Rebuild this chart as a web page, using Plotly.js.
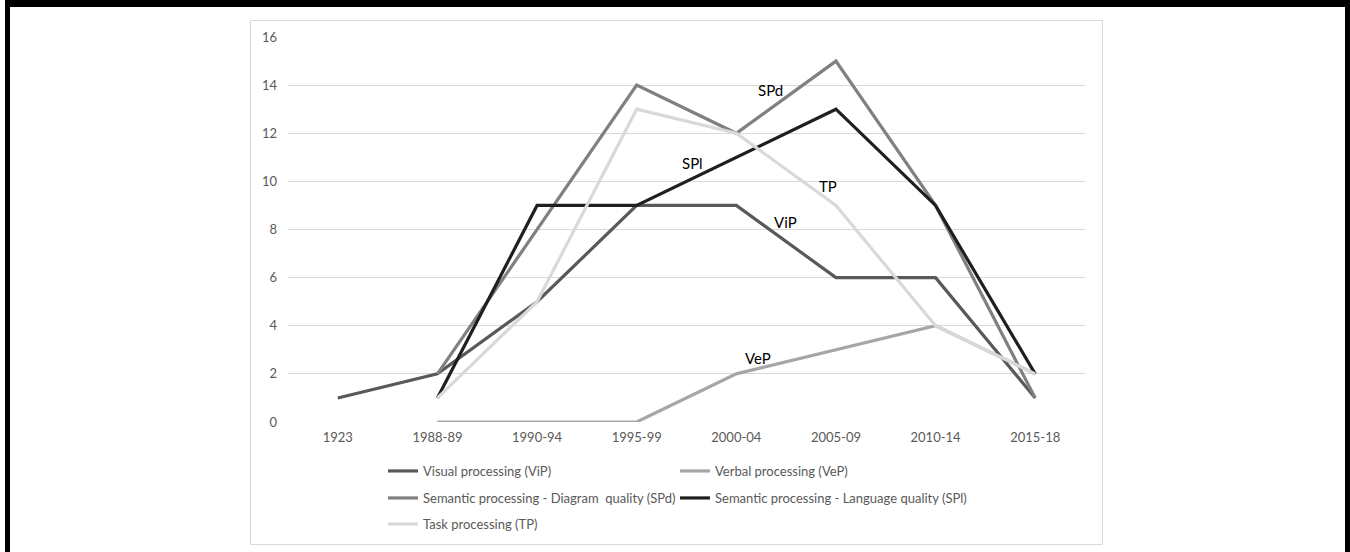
<!DOCTYPE html>
<html>
<head>
<meta charset="utf-8">
<script src="https://cdn.plot.ly/plotly-3.0.1.min.js"></script>
<style>
  html, body { margin: 0; padding: 0; background: #ffffff; }
  #wrap { position: relative; width: 1350px; height: 552px; overflow: hidden; background: #ffffff; }
  #chart { position: absolute; left: 0; top: 0; width: 1350px; height: 552px; }
  .bar { position: absolute; background: #000000; }
</style>
</head>
<body>
<div id="wrap">
  <div id="chart"></div>
  <div class="bar" style="left:5px; top:0; width:1345px; height:7px;"></div>
  <div class="bar" style="left:5px; top:0; width:5px; height:552px;"></div>
  <div class="bar" style="left:1345px; top:0; width:5px; height:552px;"></div>
</div>
<script>
// ---- data ----
var categories = ["1923", "1988-89", "1990-94", "1995-99", "2000-04", "2005-09", "2010-14", "2015-18"];
var vipValues = [1, 2, 5, 9, 9, 6, 6, 1];
var vepValues = [null, 0, 0, 0, 2, 3, 4, 2];
var spdValues = [null, 2, 8, 14, 12, 15, 9, 1];
var splValues = [null, 1, 9, 9, 11, 13, 9, 2];
var tpValues  = [null, 1, 5, 13, 12, 9, 4, 2];
var seriesNames = [
  "Visual processing (ViP)",
  "Verbal processing (VeP)",
  "Semantic processing - Diagram  quality (SPd)",
  "Semantic processing - Language quality (SPl)",
  "Task processing (TP)"
];
var yTickVals = [0, 2, 4, 6, 8, 10, 12, 14, 16];
var lineLabels = ["SPd", "SPl", "TP", "ViP", "VeP"];

// ---- styling ----
var FONT = "Lato, 'Open Sans', sans-serif";
var colors = ["#595959", "#a6a6a6", "#808080", "#1f1f1f", "#d9d9d9"];
var allValues = [vipValues, vepValues, spdValues, splValues, tpValues];
var legendIds = ["legend", "legend2", "legend3", "legend4", "legend5"];

var traces = allValues.map(function (vals, i) {
  return {
    type: "scatter",
    mode: "lines",
    x: categories,
    y: vals,
    name: seriesNames[i].replace(/\s\s+/g, function (m) { return m.replace(/ /g, "\u00a0"); }),
    line: { color: colors[i], width: 3.2 },
    connectgaps: false,
    hoverinfo: "x+y+name",
    legend: legendIds[i]
  };
});

// plot area geometry (pixels)
var L = 288, R = 1085, T = 37, B = 422;
var W = 1350, H = 552;
function px2paperX(px) { return (px - L) / (R - L); }
function px2paperY(py) { return (B - py) / (B - T); }

var legendFont = { family: FONT, size: 13, color: "#595959" };
function legendAt(px, py) {
  return {
    x: px2paperX(px), y: px2paperY(py),
    xanchor: "left", yanchor: "middle",
    bgcolor: "rgba(0,0,0,0)", borderwidth: 0,
    font: legendFont, orientation: "v"
  };
}

var labelPos = [
  [4.34, 13.8], [3.56, 10.75], [4.92, 9.8], [4.49, 8.3], [4.22, 2.65]
];
var annotations = lineLabels.map(function (t, i) {
  return {
    x: labelPos[i][0], y: labelPos[i][1], xref: "x", yref: "y",
    text: t, showarrow: false,
    font: { family: FONT, size: 15, color: "#000000" }
  };
});

var layout = {
  width: W, height: H,
  margin: { l: L, r: W - R, t: T, b: H - B, pad: 0, autoexpand: false },
  paper_bgcolor: "#ffffff",
  plot_bgcolor: "#ffffff",
  showlegend: true,
  font: { family: FONT, size: 13, color: "#595959" },
  xaxis: {
    type: "category",
    range: [-0.5, categories.length - 0.5],
    showgrid: false, zeroline: false, showline: false,
    ticks: "", ticklabelstandoff: 6,
    tickfont: { family: FONT, size: 13, color: "#595959" },
    fixedrange: true
  },
  yaxis: {
    range: [0, 16.001],
    tickvals: yTickVals,
    showgrid: true, gridcolor: "#d9d9d9", gridwidth: 1,
    zeroline: false, showline: false,
    ticks: "", ticklabelstandoff: 10,
    tickfont: { family: FONT, size: 13, color: "#595959" },
    fixedrange: true
  },
  legend: legendAt(383, 471),
  legend2: legendAt(675, 471),
  legend3: legendAt(383, 498),
  legend4: legendAt(675, 498),
  legend5: legendAt(383, 524),
  annotations: annotations,
  shapes: [{
    type: "rect", xref: "paper", yref: "paper",
    x0: px2paperX(250.5), x1: px2paperX(1102.5),
    y0: px2paperY(544.5), y1: px2paperY(20.5),
    line: { color: "#d9d9d9", width: 1 },
    fillcolor: "rgba(0,0,0,0)",
    layer: "below"
  }]
};

Plotly.newPlot("chart", traces, layout, { displayModeBar: false, staticPlot: false });
</script>
</body>
</html>
